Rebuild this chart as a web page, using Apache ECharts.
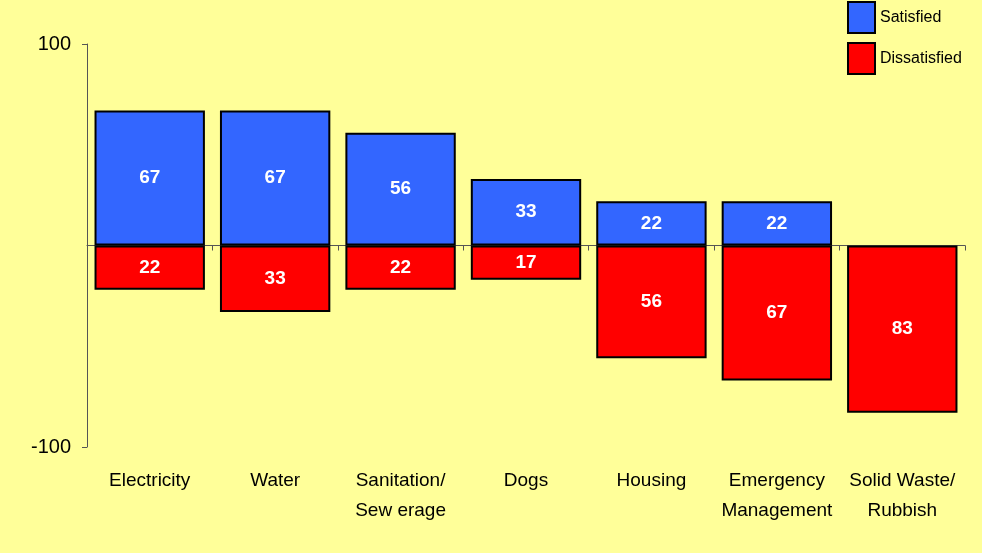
<!DOCTYPE html>
<html>
<head>
<meta charset="utf-8">
<script src="https://cdn.jsdelivr.net/npm/echarts@6/dist/echarts.min.js"></script>
<style>
  html, body { margin: 0; padding: 0; background: #ffff99; }
  #chart { width: 982px; height: 553px; }
</style>
</head>
<body>
<div id="chart"></div>
<script>
// 数据
var categories = ['Electricity', 'Water', 'Sanitation/\nSew erage', 'Dogs', 'Housing', 'Emergency\nManagement', 'Solid Waste/\nRubbish'];
var satisfied = [67, 67, 56, 33, 22, 22, 0];
var dissatisfied = [22, 33, 22, 17, 56, 67, 83];
var yTicks = [-100, 100];

(function () {
    var myChart = echarts.init(document.getElementById('chart'));
    var font = 'Liberation Sans, Arial, sans-serif';
    var barLabel = {
        show: true,
        position: 'inside',
        color: '#fff',
        fontWeight: 'bold',
        fontSize: 19,
        fontFamily: font,
        formatter: function (p) { return Math.abs(p.value); }
    };
    option = {
        backgroundColor: '#ffff99',
        animation: false,
        legend: {
            orient: 'vertical',
            left: 842,
            top: -4,
            itemWidth: 27,
            itemHeight: 31,
            itemGap: 8,
            icon: 'rect',
            textStyle: { fontFamily: font, fontSize: 16, color: '#000' },
            data: ['Satisfied', 'Dissatisfied']
        },
        grid: { left: 87, right: 17, top: 44, bottom: 106 },
        xAxis: [
            {
                type: 'category',
                data: categories,
                axisLine: { onZero: true, lineStyle: { color: '#555', width: 1 } },
                axisTick: { show: true, length: 5, lineStyle: { color: '#555' } },
                axisLabel: { show: false }
            },
            {
                type: 'category',
                data: categories,
                position: 'bottom',
                axisLine: { show: false, onZero: false },
                axisTick: { show: false },
                axisLabel: {
                    margin: 19,
                    color: '#000',
                    fontSize: 19,
                    lineHeight: 30,
                    fontFamily: font,
                    interval: 0
                }
            }
        ],
        yAxis: {
            type: 'value',
            min: -100,
            max: 100,
            interval: 100,
            axisLine: { show: true, lineStyle: { color: '#555', width: 1 } },
            axisTick: { show: true, length: 5, customValues: yTicks, lineStyle: { color: '#555' } },
            splitLine: { show: false },
            axisLabel: {
                margin: 16,
                color: '#000',
                fontSize: 20,
                fontFamily: font,
                customValues: yTicks
            }
        },
        series: [
            {
                name: 'Satisfied',
                type: 'bar',
                xAxisIndex: 0,
                barWidth: '88%',
                barGap: '-100%',
                data: satisfied.map(function (v) { return v === 0 ? null : v; }),
                itemStyle: { color: '#3366ff', borderColor: '#000', borderWidth: 2 },
                label: barLabel
            },
            {
                name: 'Dissatisfied',
                type: 'bar',
                xAxisIndex: 0,
                barWidth: '88%',
                barGap: '-100%',
                data: dissatisfied.map(function (v) { return -v; }),
                itemStyle: { color: '#ff0000', borderColor: '#000', borderWidth: 2 },
                label: barLabel
            }
        ]
    };
    myChart.setOption(option);
})();
</script>
</body>
</html>
